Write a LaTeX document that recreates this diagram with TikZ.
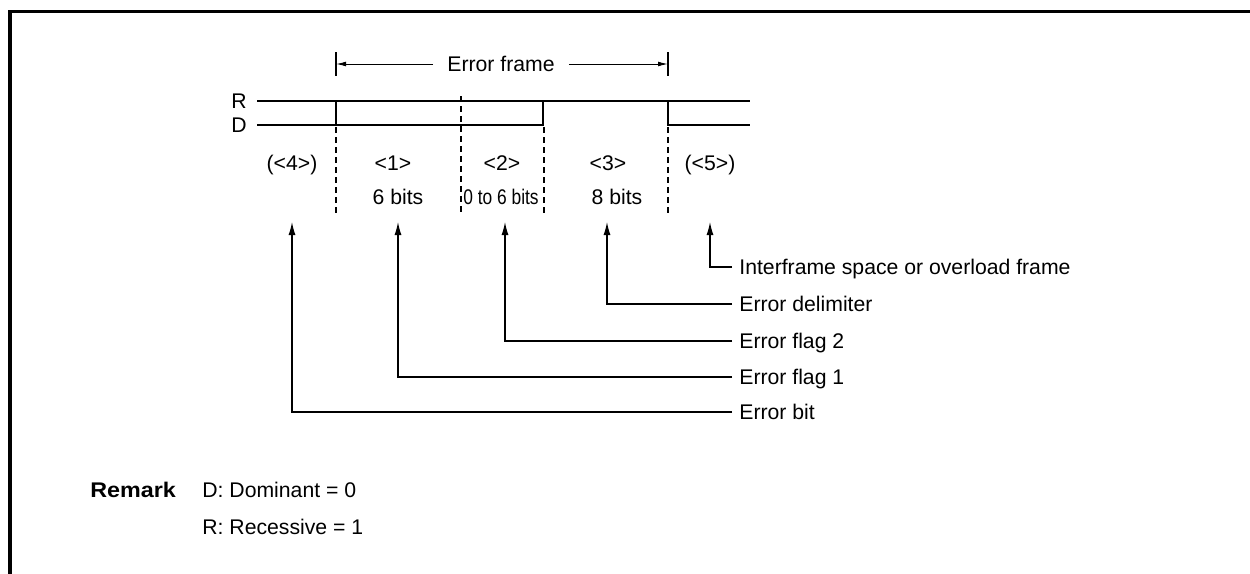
\documentclass[tikz,border=0pt]{standalone}
\usepackage{fontspec}
\setmainfont{Liberation Sans}
\usetikzlibrary{arrows.meta}
\begin{document}
\begin{tikzpicture}[x=0.5pt,y=-0.5pt,
  every node/.style={font=\fontsize{10.6pt}{12pt}\selectfont},
  lab/.style={inner sep=0pt,text height=0.716em,text depth=0pt},
  leader/.style={inner xsep=3.5pt,inner ysep=0pt,text height=0.716em,text depth=0pt,anchor=west},
  sig/.style={line width=1.1pt},
  thin/.style={line width=0.55pt},
  dsh/.style={line width=0.6pt,dash pattern=on 3pt off 2pt},
  up/.style={line width=0.6pt,-{Latex[length=6.5pt,width=3.5pt]}},
  fr/.style={line width=0.5pt,-{Latex[length=5pt,width=2.4pt]}}]
\useasboundingbox (0,0) rectangle (1250,574);
% border
\draw[line width=1.7pt] (10,574) -- (10,11.5) -- (1250,11.5);
% error frame bracket
\coordinate (tl) at (336,64);
\coordinate (tr) at (668,64);
\draw[thin] (336,52) -- (336,76);
\draw[thin] (668,52) -- (668,76);
\node[lab,inner xsep=7pt] (ef) at (501,64) {Error frame};
\draw[fr] (ef.west) -- (tl);
\draw[fr] (ef.east) -- (tr);
% R / D labels
\node[lab,anchor=east] (R) at (247,101) {R};
\node[lab,anchor=east] (D) at (247,125) {D};
% waveform
\draw[sig] (257,101) -- (750,101);
\draw[sig] (257,125) -- (543,125) -- (543,101);
\draw[sig] (336,101) -- (336,125);
\draw[sig] (668,101) -- (668,125) -- (750,125);
% dashed dividers
\draw[dsh] (336,127) -- (336,214);
\draw[dsh] (461,96) -- (461,214);
\draw[dsh] (544,127) -- (544,214);
\draw[dsh] (668,127) -- (668,214);
% field labels
\node[lab] (f4) at (292,163) {(<4>)};
\node[lab] (f1) at (393,163) {<1>};
\node[lab] (f2) at (502,163) {<2>};
\node[lab] (f3) at (608,163) {<3>};
\node[lab] (f5) at (710,163) {(<5>)};
\node[lab] (b1) at (398,197) {6 bits};
\node[lab] (b2) at (501,197) {\scalebox{0.82}[1]{0 to 6 bits}};
\node[lab] (b3) at (617,197) {8 bits};
% leaders
\coordinate (a4) at (292,222);
\coordinate (a1) at (398,222);
\coordinate (a2) at (505,222);
\coordinate (a3) at (607,222);
\coordinate (a5) at (710,222);
\node[leader] (l5) at (732,267) {Interframe space or overload frame};
\node[leader] (l3) at (732,304) {Error delimiter};
\node[leader] (l2) at (732,341) {Error flag 2};
\node[leader] (l1) at (732,377) {Error flag 1};
\node[leader] (l4) at (732,412) {Error bit};
\draw[up] (l5.west) -| (a5);
\draw[up] (l3.west) -| (a3);
\draw[up] (l2.west) -| (a2);
\draw[up] (l1.west) -| (a1);
\draw[up] (l4.west) -| (a4);
% remark
\node[lab,anchor=west] (rem) at (90,490) {\scalebox{1.1}[1]{\textbf{Remark}}};
\node[lab,anchor=west] (rd) at (202,490) {D: Dominant = 0};
\node[lab,anchor=west] (rr) at (202,527) {R: Recessive = 1};
\end{tikzpicture}
\end{document}
